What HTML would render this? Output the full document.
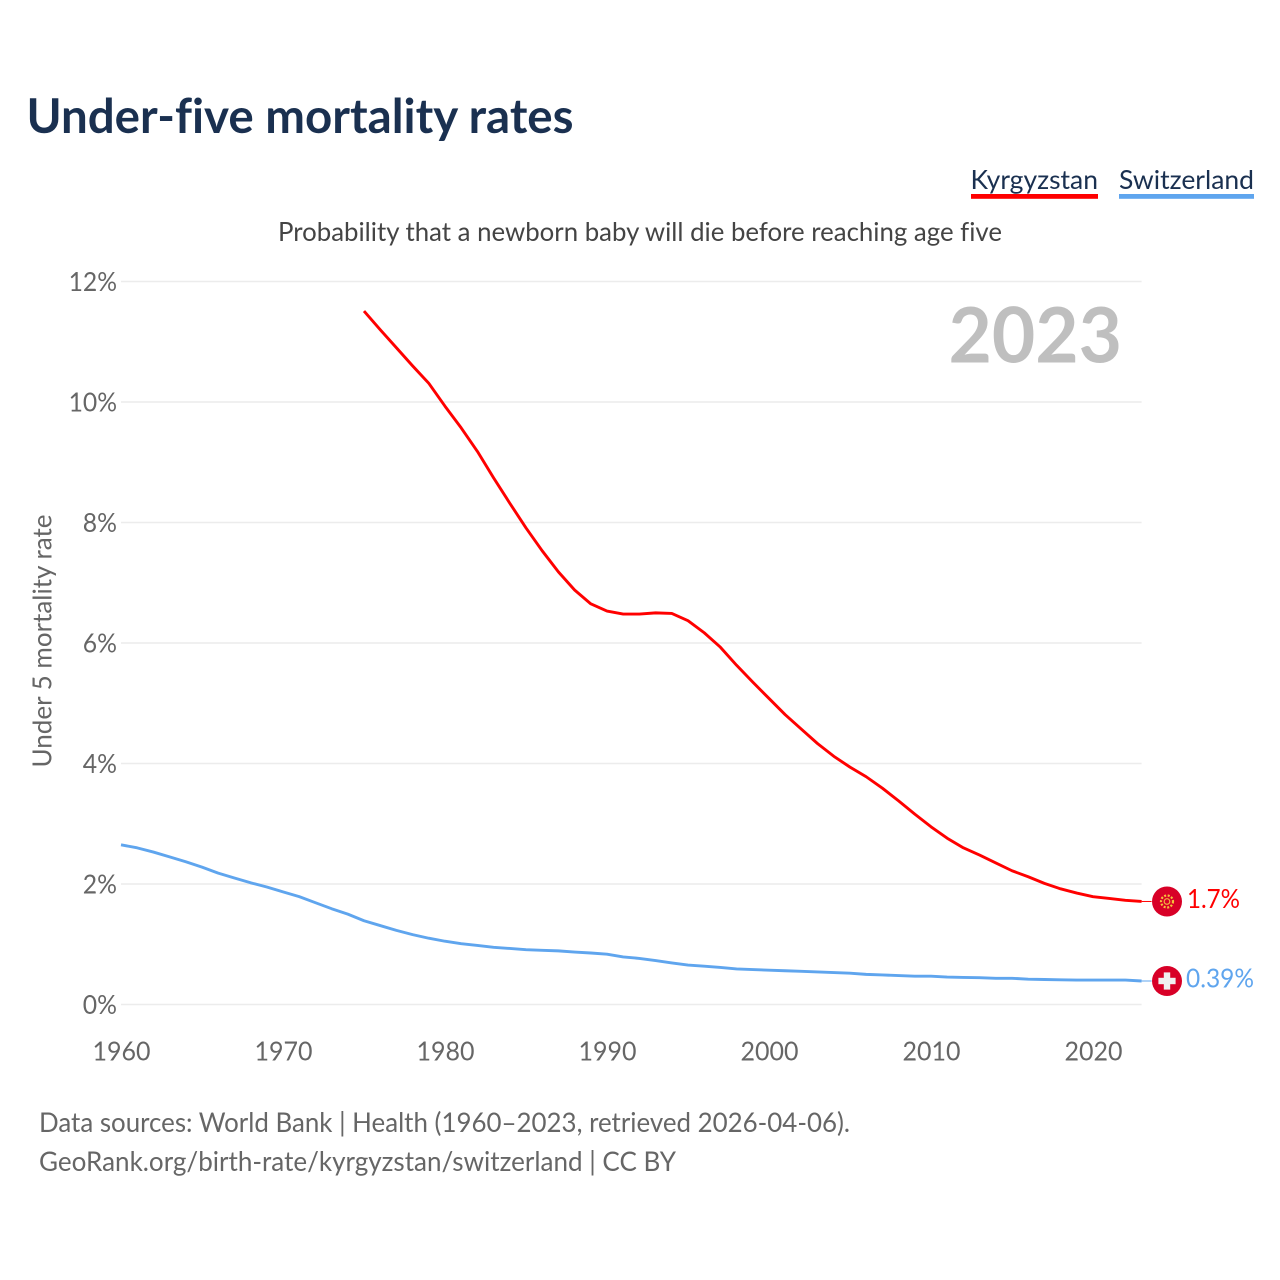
<!DOCTYPE html>
<html lang="en">
<head>
<meta charset="utf-8">
<title>Under-five mortality rates</title>
<style>
html,body{margin:0;padding:0;background:#fff;}
svg{display:block;}
text{font-family:"Lato","Carlito","Liberation Sans",sans-serif;font-variant-ligatures:none;}
</style>
</head>
<body>
<svg id="chart" xmlns="http://www.w3.org/2000/svg" width="1280" height="1280" viewBox="0 0 1280 1280">
  <rect x="0" y="0" width="1280" height="1280" fill="#ffffff"/>
  <text x="26.5" y="133" font-size="47.5" font-weight="700" fill="#1a3050" textLength="547" lengthAdjust="spacingAndGlyphs">Under-five mortality rates</text>

  <g>
    <text x="970.5" y="189" font-size="26.5" fill="#1a3050" textLength="127.5" lengthAdjust="spacingAndGlyphs">Kyrgyzstan</text>
    <rect x="971" y="194" width="127" height="4.8" fill="#ff0000"/>
  </g>
  <g>
    <text x="1119" y="189" font-size="26.5" fill="#1a3050" textLength="135" lengthAdjust="spacingAndGlyphs">Switzerland</text>
    <rect x="1119" y="194" width="135" height="4.8" fill="#5fa5ee"/>
  </g>

  <text x="278" y="241" font-size="26.5" fill="#444444" textLength="724" lengthAdjust="spacingAndGlyphs">Probability that a newborn baby will die before reaching age five</text>

  <g id="grid"></g>
  <g id="yticks"></g>
  <g id="xticks"></g>

  <text transform="translate(51.5,641) rotate(-90)" text-anchor="middle" font-size="26.5" fill="#666666" textLength="253" lengthAdjust="spacingAndGlyphs">Under 5 mortality rate</text>

  <text x="948.5" y="362.5" font-size="77" font-weight="700" fill="#bfbfbf" textLength="173.5" lengthAdjust="spacingAndGlyphs">2023</text>

  <g id="series"></g>

  <g id="flag-kg">
    <circle cx="0" cy="0" r="15" fill="#d80027"/>
    <circle cx="0" cy="0" r="6" fill="none" stroke="#f5c13c" stroke-width="2.2" stroke-dasharray="2 1.6"/>
    <circle cx="0" cy="0" r="2.8" fill="none" stroke="#f0b040" stroke-width="1.2"/>
  </g>
  <g id="flag-ch">
    <circle cx="0" cy="0" r="15" fill="#d80027"/>
    <rect x="-3.2" y="-8.6" width="6.4" height="17.2" fill="#f0f0f0"/>
    <rect x="-8.6" y="-3.2" width="17.2" height="6.4" fill="#f0f0f0"/>
  </g>

  <text x="39" y="1132" font-size="27.5" fill="#666666" textLength="811" lengthAdjust="spacingAndGlyphs">Data sources: World Bank | Health (1960–2023, retrieved 2026-04-06).</text>
  <text x="39" y="1171" font-size="27.5" fill="#666666" textLength="637" lengthAdjust="spacingAndGlyphs">GeoRank.org/birth-rate/kyrgyzstan/switzerland | CC BY</text>
</svg>

<script>
const kyrgyzstanStartYear = 1975;
const kyrgyzstanValues = [11.51,11.2,10.9,10.6,10.31,9.93,9.57,9.18,8.74,8.32,7.91,7.53,7.18,6.88,6.65,6.53,6.48,6.48,6.5,6.49,6.37,6.17,5.93,5.63,5.35,5.08,4.81,4.57,4.33,4.12,3.94,3.78,3.59,3.38,3.16,2.95,2.76,2.6,2.48,2.35,2.22,2.12,2.01,1.92,1.85,1.79,1.76,1.73,1.71];
const switzerlandStartYear = 1960;
const switzerlandValues = [2.65,2.6,2.53,2.45,2.37,2.28,2.18,2.1,2.02,1.95,1.87,1.79,1.69,1.59,1.5,1.39,1.31,1.23,1.16,1.1,1.05,1.01,0.98,0.95,0.93,0.91,0.9,0.89,0.87,0.855,0.835,0.79,0.765,0.73,0.69,0.655,0.635,0.615,0.59,0.58,0.57,0.56,0.55,0.54,0.53,0.52,0.5,0.49,0.48,0.47,0.47,0.455,0.45,0.445,0.435,0.435,0.42,0.415,0.41,0.405,0.405,0.405,0.405,0.39];
const yTickValues = [0,2,4,6,8,10,12];
const yTickLabels = ["0%","2%","4%","6%","8%","10%","12%"];
const xTickValues = [1960,1970,1980,1990,2000,2010,2020];
const xTickLabels = ["1960","1970","1980","1990","2000","2010","2020"];
const kyrgyzstanEndLabel = "1.7%";
const switzerlandEndLabel = "0.39%";

const NS = "http://www.w3.org/2000/svg";
function xScale(year){ return 121 + (year - 1960) * 16.2; }
function yScale(v){ return 1004.5 - v * 60.25; }
function make(tag, attrs, parent, content){
  const el = document.createElementNS(NS, tag);
  for (const k in attrs) el.setAttribute(k, attrs[k]);
  if (content !== undefined) el.textContent = content;
  parent.appendChild(el);
  return el;
}
const grid = document.getElementById("grid");
const yticks = document.getElementById("yticks");
const xticks = document.getElementById("xticks");
const series = document.getElementById("series");

yTickValues.forEach(function(v, i){
  const line = make("line", {x1:xScale(1960), x2:xScale(2023), y1:yScale(v), y2:yScale(v), stroke:"#ececec", "stroke-width":1.5}, grid);
  
  
  const label = yTickLabels[i];
  const t = make("text", {x:117, y:yScale(v)+9.5, "text-anchor":"end", "font-size":26.5, fill:"#666666", textLength:(label.length-1)*14.2+20, lengthAdjust:"spacingAndGlyphs"}, yticks, label);
  
  
});

xTickValues.forEach(function(v, i){
  const label = xTickLabels[i];
  const t = make("text", {x:xScale(v)+0.5, y:1060.5, "text-anchor":"middle", "font-size":26.5, fill:"#666666", textLength:58, lengthAdjust:"spacingAndGlyphs"}, xticks, label);
  
  
});

function pathFor(values, startYear){
  return values.map(function(v, i){
    return (i ? "L" : "M") + xScale(startYear + i).toFixed(2) + " " + yScale(v).toFixed(2);
  }).join(" ");
}

function drawSeries(values, startYear, color, lineName, connectorName){
  const p = make("path", {d:pathFor(values, startYear), fill:"none", stroke:color, "stroke-width":2.9, "stroke-linejoin":"round"}, series);
  
  
  const lastY = yScale(values[values.length-1]);
  const lastX = xScale(startYear + values.length - 1);
  const c = make("line", {x1:lastX, x2:lastX+10, y1:lastY, y2:lastY, stroke:color, "stroke-width":1}, series);
  
  
  return lastY;
}

const kgY = drawSeries(kyrgyzstanValues, kyrgyzstanStartYear, "#ff0000", "kyrgyzstan-line", "kyrgyzstan-connector");
const chY = drawSeries(switzerlandValues, switzerlandStartYear, "#5fa5ee", "switzerland-line", "switzerland-connector");

const svg = document.getElementById("chart");
document.getElementById("flag-kg").setAttribute("transform", "translate(1167," + kgY.toFixed(2) + ")");
document.getElementById("flag-ch").setAttribute("transform", "translate(1167," + chY.toFixed(2) + ")");

const kgLabel = make("text", {x:1187, y:kgY+6.5, "font-size":26.5, fill:"#ff0000", textLength:53, lengthAdjust:"spacingAndGlyphs"}, svg, kyrgyzstanEndLabel);


const chLabel = make("text", {x:1186, y:chY+6.5, "font-size":26.5, fill:"#5fa5ee", textLength:68, lengthAdjust:"spacingAndGlyphs"}, svg, switzerlandEndLabel);


</script>
</body>
</html>
